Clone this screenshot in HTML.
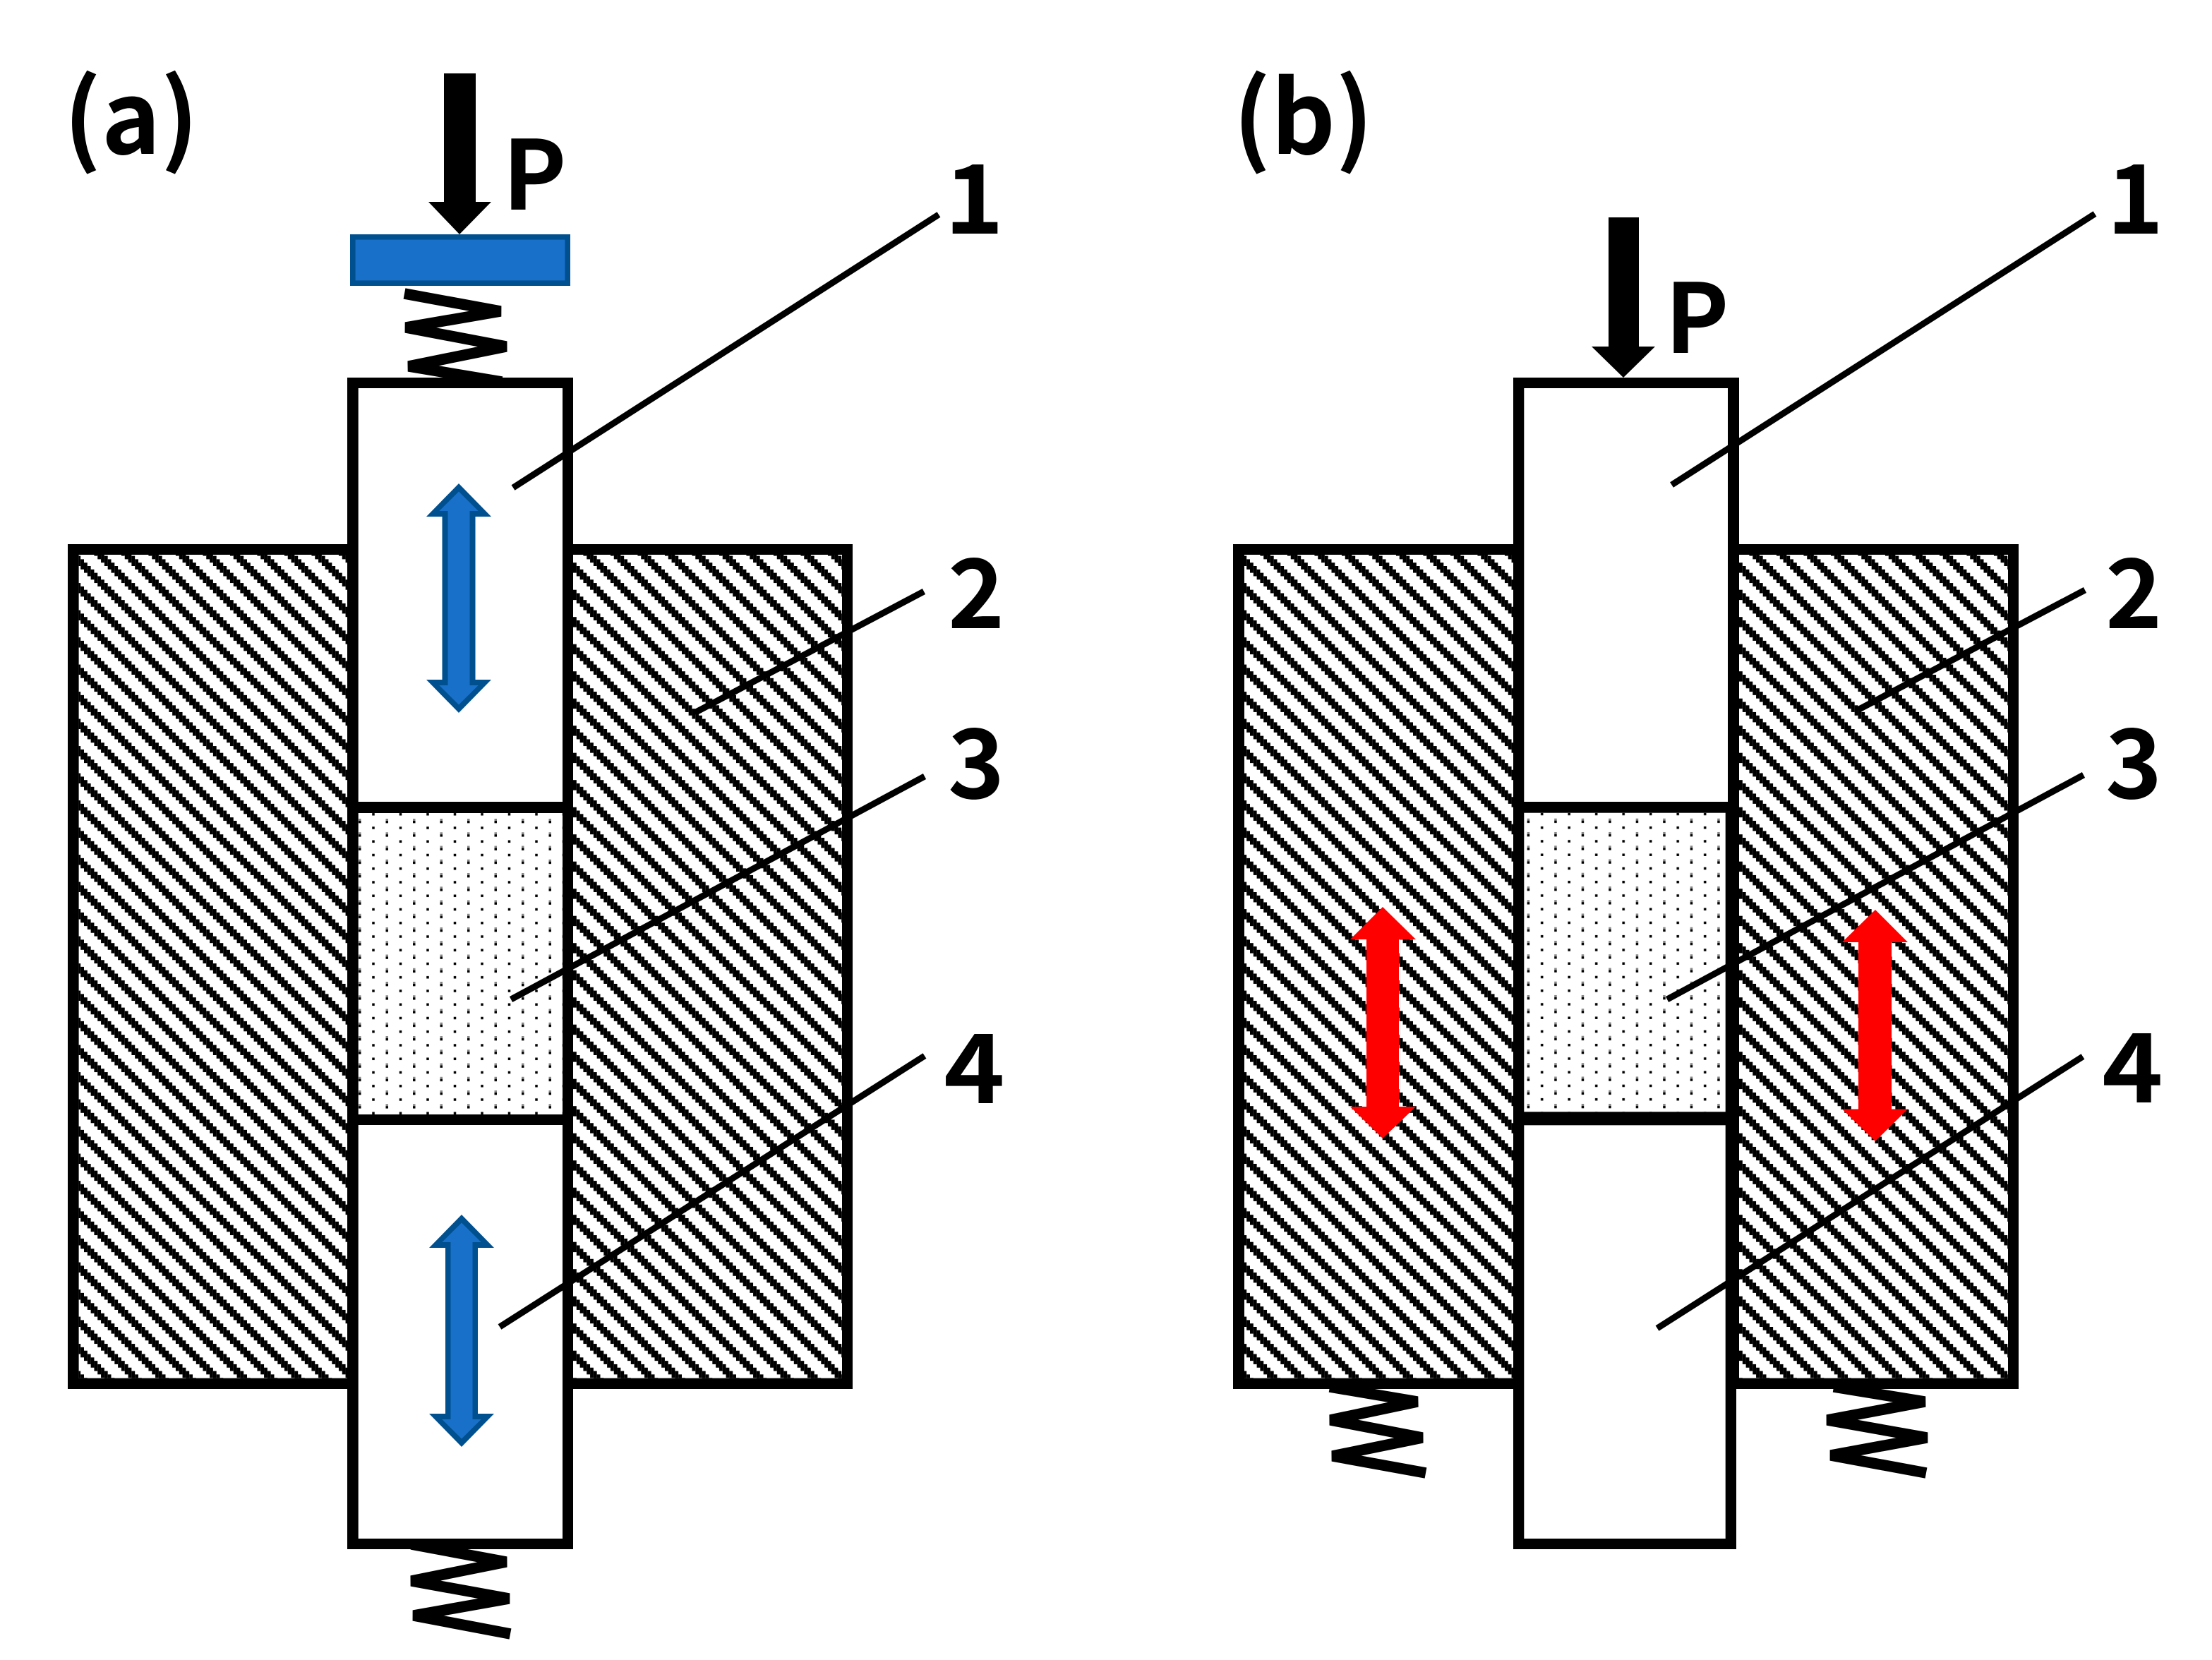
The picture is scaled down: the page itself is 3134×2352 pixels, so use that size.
<!DOCTYPE html>
<html><head><meta charset="utf-8"><style>
html,body{margin:0;padding:0;background:#fff}
svg{display:block}
text{font-family:"Noto Sans CJK KR","Liberation Sans",sans-serif;font-weight:700;fill:#000}
</style></head><body>
<svg xmlns="http://www.w3.org/2000/svg" width="3134" height="2352" viewBox="0 0 3134 2352">
<defs>
<g id="st">
<rect x="0" y="0" width="1" height="2"/><rect x="0" y="7" width="1" height="1"/>
<rect x="1" y="0" width="1" height="3"/><rect x="2" y="1" width="1" height="3"/>
<rect x="3" y="2" width="1" height="3"/><rect x="4" y="3" width="1" height="3"/>
<rect x="5" y="4" width="1" height="3"/><rect x="6" y="5" width="1" height="3"/>
<rect x="7" y="6" width="1" height="2"/><rect x="7" y="0" width="1" height="1"/>
</g>
<pattern id="ha" patternUnits="userSpaceOnUse" width="8" height="8" patternTransform="translate(812 1033) scale(4.8125)"><use href="#st"/></pattern>
<pattern id="hb" patternUnits="userSpaceOnUse" width="8" height="8" patternTransform="translate(2464 1110) scale(4.8125)"><use href="#st"/></pattern>
<pattern id="da" patternUnits="userSpaceOnUse" width="38.5" height="19.25" patternTransform="translate(520 1160)">
<rect x="7.25" y="11.25" width="3.5" height="3.5"/><rect x="26.5" y="0" width="3.5" height="3" fill="#888"/><rect x="26.5" y="3" width="3.5" height="3.3"/></pattern>
<pattern id="db" patternUnits="userSpaceOnUse" width="38.5" height="19.25" patternTransform="translate(2175.7 1159.7)">
<rect x="7.25" y="11.25" width="3.5" height="3.5"/><rect x="26.5" y="0" width="3.5" height="3" fill="#888"/><rect x="26.5" y="3" width="3.5" height="3.3"/></pattern>
</defs>
<rect width="3134" height="2352" fill="#fff"/>

<!-- springs -->
<g fill="none" stroke="#000" stroke-width="15.5" stroke-linejoin="bevel">
<polyline points="573,416 709,441 575,464 717,491 579,519 711,541"/>
<polyline points="583,2188 717,2213 583,2240 721,2265 586,2289 723,2315"/>
<polyline points="1884,1965 2008,1986 1885,2012 2015,2037 1888,2063 2020,2087"/>
<polyline points="2598,1965 2727,1986 2589,2012 2730,2037 2594,2062 2729,2087"/>
</g>

<!-- panel a -->
<rect x="96" y="771" width="1112" height="1197"/>
<rect x="111.6" y="786" width="380.4" height="1166.7" fill="#fff"/>
<rect x="111.6" y="786" width="380.4" height="1166.7" fill="url(#ha)"/>
<rect x="812" y="786" width="381" height="1166.7" fill="#fff"/>
<rect x="812" y="786" width="381" height="1166.7" fill="url(#ha)"/>
<rect x="492" y="535" width="320" height="1660"/>
<rect x="507.7" y="550" width="289.3" height="586" fill="#fff"/>
<rect x="507.7" y="1152" width="289.3" height="427" fill="#fff"/>
<rect x="507.7" y="1152" width="289.3" height="427" fill="url(#da)"/>
<rect x="507.7" y="1594" width="289.3" height="586" fill="#fff"/>

<!-- panel b -->
<rect x="1747" y="771" width="1113" height="1197"/>
<rect x="1763" y="786" width="381" height="1166.7" fill="#fff"/>
<rect x="1763" y="786" width="381" height="1166.7" fill="url(#hb)"/>
<rect x="2464" y="786" width="381" height="1166.7" fill="#fff"/>
<rect x="2464" y="786" width="381" height="1166.7" fill="url(#hb)"/>
<rect x="2144" y="535" width="320" height="1040"/>
<rect x="2144" y="1575" width="316" height="620"/>
<rect x="2159.3" y="550" width="288.7" height="586" fill="#fff"/>
<rect x="2159.3" y="1151.7" width="285.4" height="423.6" fill="#fff"/>
<rect x="2159.3" y="1151.7" width="285.4" height="423.6" fill="url(#db)"/>
<rect x="2159.3" y="1594.3" width="285.4" height="585.7" fill="#fff"/>

<!-- plate -->
<rect x="499.8" y="335.8" width="304.4" height="65.4" fill="#1870c8" stroke="#00508f" stroke-width="7.6"/>

<!-- load arrows -->
<polygon points="629,104 674,104 674,286 696,286 651,332 607,286 629,286"/>
<polygon points="2279,308 2322,308 2322,491 2345,491 2300,535 2255,491 2279,491"/>

<!-- blue arrows -->
<polygon fill="#00508f" points="650,685 696,732 673.5,732 673.5,963 696,963 650,1010 604,963 626.5,963 626.5,732 604,732"/>
<polygon fill="#1870c8" points="650,696.5 677.7,724 665.5,724 665.5,971 677.7,971 650,998.5 622.3,971 634.5,971 634.5,724 622.3,724"/>
<polygon fill="#00508f" points="654,1721 700,1768 677,1768 677,2003 700,2003 654,2050 608,2003 631,2003 631,1768 608,1768"/>
<polygon fill="#1870c8" points="654,1732.5 681.7,1760 669.5,1760 669.5,2011 681.7,2011 654,2038.5 626.3,2011 638.5,2011 638.5,1760 626.3,1760"/>

<!-- red arrows -->
<polygon fill="#f00" points="1959,1285 2006,1331 1982,1331 1982,1568 2006,1568 1959,1613 1913,1568 1936,1568 1936,1331 1913,1331"/>
<polygon fill="#f00" points="2657,1289 2703,1335 2680,1335 2680,1571.5 2703,1571.5 2657,1617 2610,1571.5 2633,1571.5 2633,1335 2610,1335"/>

<!-- leaders -->
<g stroke="#000" stroke-width="9" fill="none">
<line x1="727" y1="691" x2="1330" y2="304"/>
<line x1="984" y1="1010" x2="1309" y2="838"/>
<line x1="724" y1="1416" x2="1310" y2="1100"/>
<line x1="708" y1="1880" x2="1310" y2="1496"/>
<line x1="2368.5" y1="687" x2="2968" y2="303"/>
<line x1="2632" y1="1006" x2="2954" y2="836"/>
<line x1="2362" y1="1416" x2="2952" y2="1098"/>
<line x1="2348" y1="1882" x2="2951" y2="1497"/>
</g>

<!-- labels -->
<g font-size="136">
<text x="90" y="218" font-size="142">(a)</text>
<text x="1747" y="218" font-size="142">(b)</text>
<text x="712" y="297">P</text>
<text x="2359" y="500">P</text>
<text transform="translate(1338 331) scale(1.05 1)">1</text>
<text x="1343" y="890">2</text>
<text x="1343" y="1131">3</text>
<text transform="translate(1337 1563) scale(1.08 1)">4</text>
<text x="2985" y="331">1</text>
<text x="2983" y="890">2</text>
<text x="2983" y="1131">3</text>
<text transform="translate(2978 1562) scale(1.08 1)">4</text>
</g>
</svg>
</body></html>
